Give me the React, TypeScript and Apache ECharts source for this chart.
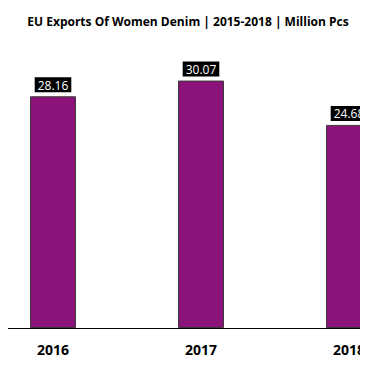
import React, { useEffect, useRef } from "react";
import * as echarts from "echarts";

const categories = ["2015", "2016", "2017", "2018"];
const exportsMillionPcs: (number | null)[] = [null, 28.16, 30.07, 24.68];
const titleText = "EU Exports Of Women Denim | 2015-2018 | Million Pcs";

const OFFSET = 169;
const CHART_W = 592;

export default function App() {
  const ref = useRef<HTMLDivElement>(null);
  useEffect(() => {
    const chart = echarts.init(ref.current!, null, { renderer: "svg" });
    chart.setOption({
      animation: false,
      backgroundColor: "#ffffff",
      title: {
        text: titleText,
        left: OFFSET + 183,
        textAlign: "center",
        top: 10,
        textStyle: {
          fontFamily: "Open Sans",
          fontWeight: "bold",
          fontSize: 12,
          color: "#000000",
        },
      },
      graphic: [
        { type: "line", shape: { x1: 0, y1: 0.5, x2: CHART_W, y2: 0.5 }, style: { stroke: "#d9d9d9", lineWidth: 1 } },
        { type: "line", shape: { x1: 0, y1: 368.5, x2: CHART_W, y2: 368.5 }, style: { stroke: "#d9d9d9", lineWidth: 1 } },
      ],
      grid: { left: 0, right: 0, top: 40, bottom: 42 },
      xAxis: {
        type: "category",
        data: categories,
        axisLine: { lineStyle: { color: "#000000", width: 1 } },
        axisTick: { show: false },
        axisLabel: {
          fontFamily: "Open Sans",
          fontWeight: "bold",
          fontSize: 14,
          color: "#000000",
          margin: 14,
          formatter: (v: string, i: number) => (i === 0 ? "" : v),
        },
      },
      yAxis: {
        type: "value",
        min: 0,
        max: 35,
        show: false,
        splitLine: { show: false },
      },
      series: [
        {
          type: "bar",
          data: exportsMillionPcs,
          barWidth: 46,
          itemStyle: { color: "#8B1379", borderColor: "#3a3a3a", borderWidth: 1 },
          label: {
            show: true,
            position: "top",
            distance: 4,
            color: "#ffffff",
            backgroundColor: "#000000",
            fontFamily: "Open Sans",
            fontSize: 12,
            padding: [2, 3, 1, 3],
            formatter: (p: any) => (p.value == null ? "" : p.value.toFixed(2)),
          },
        },
      ],
    });
    return () => chart.dispose();
  }, []);
  return (
    <div style={{ width: 368, height: 370, margin: -8, overflow: "hidden", position: "relative" }}>
      <div ref={ref} style={{ position: "absolute", left: -OFFSET, top: 0, width: CHART_W, height: 370 }} />
    </div>
  );
}
